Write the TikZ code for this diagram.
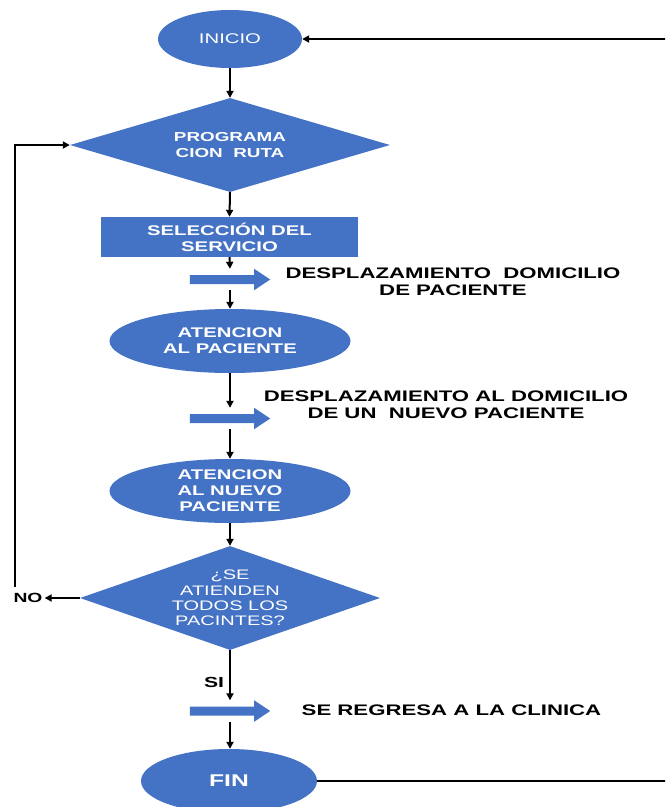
\documentclass[tikz,border=0pt]{standalone}
\usepackage{fontspec}
\setmainfont{Liberation Sans}
\newfontfamily\af[FakeStretch=1.45]{Liberation Sans}
\usetikzlibrary{shapes.geometric,arrows.meta}
\definecolor{ofblue}{HTML}{4472C4}
\newcommand\blockarr[1]{%
  \fill[ofblue] ([yshift=4.5pt]#1.west) -- ([xshift=-16pt,yshift=4.5pt]#1.east)
    -- ([xshift=-16pt]#1.north east) -- (#1.east) -- ([xshift=-16pt]#1.south east)
    -- ([xshift=-16pt,yshift=-4.5pt]#1.east) -- ([yshift=-4.5pt]#1.west) -- cycle;}
\begin{document}
\begin{tikzpicture}[x=1pt,y=-1pt,
  shp/.style={fill=ofblue, inner sep=0pt, text=white, align=center},
  ell/.style={shp, ellipse},
  bar/.style={minimum width=80pt, minimum height=21pt, inner sep=0pt},
  conn/.style={draw=black, line width=2pt, -{Triangle[length=7pt,width=7pt]}},
  fbold/.style={font=\af\bfseries\fontsize{14}{16}\selectfont},
  side/.style={align=center, font=\af\bfseries\fontsize{15.3}{17}\selectfont}
]
\useasboundingbox (0,0) rectangle (665,807);
\clip (0,0) rectangle (665,807);

\node[ell, minimum width=144pt, minimum height=58pt, font=\af\fontsize{14}{16}\selectfont] (ini) at (230,39) {INICIO};
\node[shp, diamond, aspect=3.4, minimum width=320pt, minimum height=94pt, font=\af\bfseries\fontsize{13}{16}\selectfont] (prog) at (230,145) {PROGRAMA\\CION~ RUTA};
\node[shp, rectangle, minimum width=257pt, minimum height=40pt, fbold] (sel) at (229.5,237) {SELECCIÓN DEL\\SERVICIO};
\node[bar] (b1) at (230,279.5) {};
\blockarr{b1}
\node[ell, minimum width=241pt, minimum height=64pt, fbold] (at1) at (230,341) {ATENCION\\AL PACIENTE};
\node[bar] (b2) at (230,418.5) {};
\blockarr{b2}
\node[ell, minimum width=241pt, minimum height=64pt, fbold] (at2) at (230,491) {ATENCION\\AL NUEVO\\PACIENTE};
\node[shp, diamond, aspect=2.9, minimum width=300pt, minimum height=104pt, font=\af\fontsize{13.8}{15.3}\selectfont] (dec) at (230,598) {¿SE\\ATIENDEN\\TODOS LOS\\PACINTES?};
\node[bar] (b3) at (230,711) {};
\blockarr{b3}
\node[ell, minimum width=176pt, minimum height=64pt, font=\af\bfseries\fontsize{17}{19}\selectfont] (fin) at (229,781) {FIN};

\node[side] (t1) at (453,281.5) {DESPLAZAMIENTO~ DOMICILIO\\DE PACIENTE};
\node[side] (t2) at (446,405) {DESPLAZAMIENTO AL DOMICILIO\\DE UN~ NUEVO PACIENTE};
\node[side] (t3) at (451.5,710) {SE REGRESA A LA CLINICA};
\node[font=\af\bfseries\fontsize{13.3}{15}\selectfont, inner sep=2pt] (no) at (28,598) {NO};
\node[font=\af\bfseries\fontsize{14.6}{16}\selectfont] (si) at (214,682) {SI};

\draw[conn] (ini.south) -- (prog.north);
\draw[conn] (prog.south) -- (sel.north);
\draw[conn] (sel.south) -- (b1.north);
\draw[conn] (b1.south) -- (at1.north);
\draw[conn] (at1.south) -- (b2.north);
\draw[conn] (b2.south) -- (at2.north);
\draw[conn] (at2.south) -- (dec.north);
\draw[conn] (dec.south) -- (b3.north);
\draw[conn] (b3.south) -- (b3.south |- fin.north);
\draw[conn] (dec.west) -- (no.east);
\coordinate (lb) at (15,587);
\draw[conn] (lb) |- (prog.west);
\coordinate (rb) at (667,781);
\draw[conn] (fin.east) -- (rb) |- (ini.east);
\end{tikzpicture}
\end{document}
